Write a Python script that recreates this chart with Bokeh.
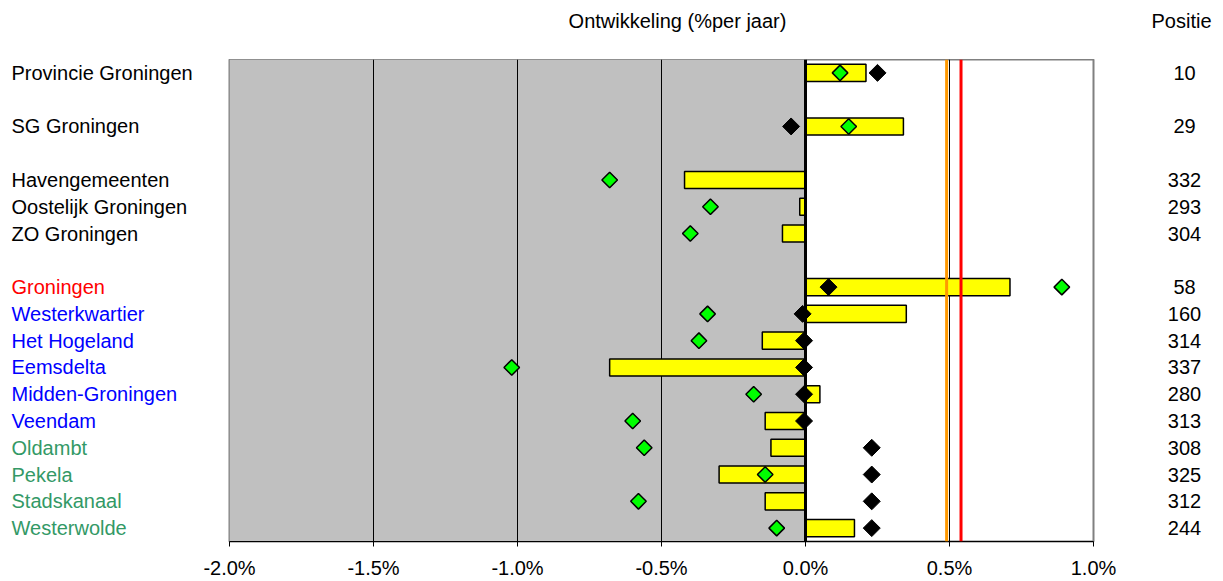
import numpy as np
from bokeh.plotting import figure
from bokeh.layouts import column, row
from bokeh.models import (ColumnDataSource, FactorRange, FixedTicker, PrintfTickFormatter,
                          Span, BoxAnnotation, Range1d)
from bokeh.core.properties import value
from bokeh.embed import file_html
from bokeh.resources import INLINE

# ---- data ----
rows = ["Provincie Groningen", " ", "SG Groningen", "  ",
        "Havengemeenten", "Oostelijk Groningen", "ZO Groningen", "   ",
        "Groningen", "Westerkwartier", "Het Hogeland", "Eemsdelta",
        "Midden-Groningen", "Veendam", "Oldambt", "Pekela", "Stadskanaal",
        "Westerwolde"]

names = ["Provincie Groningen", "SG Groningen", "Havengemeenten",
         "Oostelijk Groningen", "ZO Groningen", "Groningen", "Westerkwartier",
         "Het Hogeland", "Eemsdelta", "Midden-Groningen", "Veendam", "Oldambt",
         "Pekela", "Stadskanaal", "Westerwolde"]
name_colors = ["black", "black", "black", "black", "black", "#FF0000",
               "#0000FF", "#0000FF", "#0000FF", "#0000FF", "#0000FF",
               "#339966", "#339966", "#339966", "#339966"]
bar_values = [0.21, 0.34, -0.42, -0.02, -0.08, 0.71, 0.35, -0.15, -0.68,
              0.05, -0.14, -0.12, -0.30, -0.14, 0.17]
green_values = [0.12, 0.15, -0.68, -0.33, -0.40, 0.89, -0.34, -0.37, -1.02,
                -0.18, -0.60, -0.56, -0.14, -0.58, -0.10]
black_values = [0.25, -0.05, None, None, None, 0.08, -0.01, -0.005, -0.005,
                -0.005, -0.005, 0.23, 0.23, 0.23, 0.23]
positie = [10, 29, 332, 293, 304, 58, 160, 314, 337, 280, 313, 308, 325, 312, 244]
orange_line = 0.49
red_line = 0.54
x_ticks = [-2.0, -1.5, -1.0, -0.5, 0.0, 0.5, 1.0]
grid_ticks = [-1.5, -1.0, -0.5, 0.5]
title_text = "Ontwikkeling (%per jaar)"
pos_header = "Positie"

FONT = "Liberation Sans"
FS = "20px"

src = ColumnDataSource(dict(name=names, color=name_colors, bar=bar_values,
                            green=green_values, pos=[str(v) for v in positie]))
bk_idx = [i for i, v in enumerate(black_values) if v is not None]
src_black = ColumnDataSource(dict(name=[names[i] for i in bk_idx],
                                  black=[black_values[i] for i in bk_idx]))

y_range = FactorRange(factors=list(reversed(rows)), range_padding=0)


def blank_fig(width, height, x_range, y_range, bottom=0):
    f = figure(width=width, height=height, output_backend="svg", toolbar_location=None,
               x_range=x_range, y_range=y_range, x_axis_location=None, y_axis_location=None,
               min_border_left=0, min_border_right=0, min_border_top=0,
               min_border_bottom=bottom)
    f.outline_line_color = None
    f.xgrid.visible = False
    f.ygrid.visible = False
    f.background_fill_color = "white"
    f.border_fill_color = "white"
    return f


# ---- header ----
header = blank_fig(1223, 59, Range1d(0, 1223), Range1d(0, 59))
header.text(x=[677, 1181], y=[39, 39], text=[title_text, pos_header],
            text_font=value(FONT), text_font_size=FS, text_color="black",
            text_align="center", text_baseline="middle")

# ---- names column ----
names_fig = blank_fig(199, 522, Range1d(0, 199), y_range, bottom=40)
names_fig.text(x=11, y="name", text="name", source=src, text_color="color",
               text_font=value(FONT), text_font_size=FS,
               text_align="left", text_baseline="middle")

# ---- main plot ----
p = figure(width=924, height=522, output_backend="svg", toolbar_location=None,
           x_range=(-2.0, 1.0), y_range=y_range, y_axis_location=None,
           min_border_left=30, min_border_right=30, min_border_top=0,
           min_border_bottom=40)
p.background_fill_color = "white"
p.border_fill_color = "white"
p.outline_line_color = "#808080"
p.outline_line_width = 2

p.add_layout(BoxAnnotation(right=0, fill_color="#C0C0C0", fill_alpha=1.0,
                           line_color=None, level="image"))

p.ygrid.visible = False
p.xgrid.ticker = FixedTicker(ticks=grid_ticks)
p.xgrid.grid_line_color = "black"
p.xgrid.grid_line_width = 1

ax = p.xaxis[0]
ax.ticker = FixedTicker(ticks=x_ticks)
ax.formatter = PrintfTickFormatter(format="%.1f%%")
ax.major_label_text_font = FONT
ax.major_label_text_font_size = FS
ax.major_label_text_color = "black"
ax.major_label_standoff = 10
ax.major_tick_in = 0
ax.major_tick_out = 5
ax.major_tick_line_color = "black"
ax.minor_tick_line_color = None
ax.axis_line_color = "black"
ax.axis_line_width = 1

p.hbar(y="name", left=0, right="bar", height=0.64, source=src,
       fill_color="#FFFF00", line_color="black", line_width=1.5)

p.add_layout(Span(location=0, dimension="height", line_color="black", line_width=3))
p.add_layout(Span(location=orange_line, dimension="height", line_color="#FF9900", line_width=3))
p.add_layout(Span(location=red_line, dimension="height", line_color="#FF0000", line_width=3))

p.scatter(x="black", y="name", source=src_black, marker="square", angle=np.pi / 4,
          size=12, fill_color="black", line_color="black", line_width=1, level="overlay")
p.scatter(x="green", y="name", source=src, marker="square", angle=np.pi / 4,
          size=11, fill_color="#00FF00", line_color="black", line_width=1.5, level="overlay")

# ---- position column ----
pos_fig = blank_fig(100, 522, Range1d(0, 100), y_range, bottom=40)
pos_fig.text(x=61, y="name", text="pos", source=src, text_color="black",
             text_font=value(FONT), text_font_size=FS,
             text_align="center", text_baseline="middle")

layout = column(header, row(names_fig, p, pos_fig, spacing=0), spacing=0)

open("out.html", "w").write(file_html(layout, INLINE))
